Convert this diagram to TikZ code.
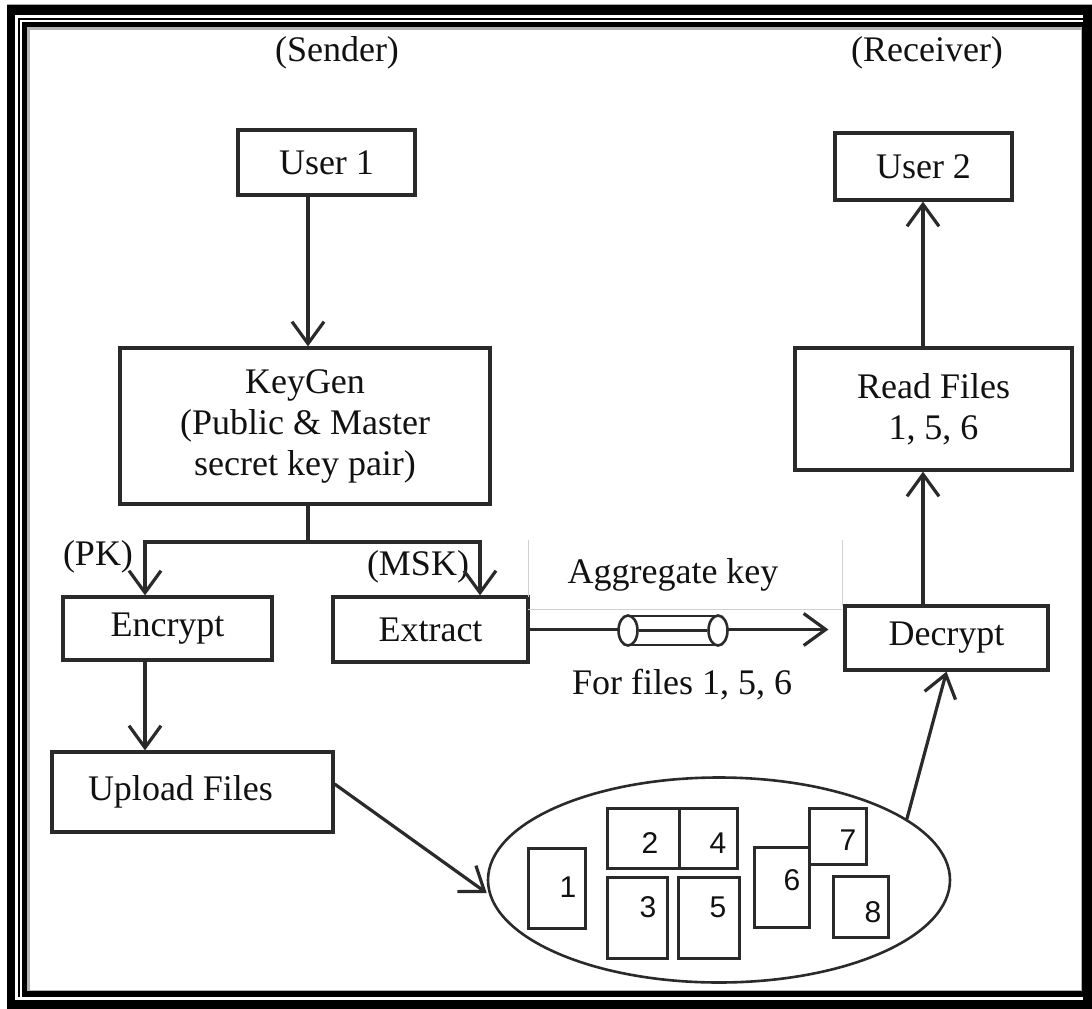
\documentclass[tikz,border=0pt]{standalone}
\usepackage{fontspec}
\setmainfont{Liberation Serif}
\newfontfamily\digitfont{Liberation Sans}
\usetikzlibrary{arrows.meta,shapes.geometric}
\definecolor{ln}{HTML}{2A2A2A}
\definecolor{tx}{HTML}{111111}
\definecolor{faint}{HTML}{D0D0D0}
\tikzset{
  box/.style={draw=ln, line width=3.2pt, fill=white, inner sep=0pt, text=tx,
    font=\fontsize{36}{41}\selectfont, align=center},
  lbl/.style={inner sep=0pt, text=tx, font=\fontsize{36}{41}\selectfont},
  filebox/.style={draw=ln, line width=3pt, inner sep=0pt},
  digit/.style={inner sep=0pt, text=tx, font=\digitfont\fontsize{30}{32}\selectfont},
  arr/.style={draw=ln, line width=3.2pt, -{Straight Barb[length=22pt,width=32pt]}},
  conn/.style={draw=ln, line width=3.2pt},
}
\begin{document}
\begin{tikzpicture}[x=1pt,y=-1pt]
\useasboundingbox (0,0) rectangle (1092,1009);
% frame
\fill[white] (0,0) rectangle (1092,1009);
\draw[gray!70, line width=1pt] (7,4) -- (1092,4);
\fill[black] (7,5) rectangle (1092,1009);
\fill[white] (15,15) rectangle (1083,1000);
\fill[black] (18,18) rectangle (1083,997);
\fill[white] (20,20) rectangle (1083,997);
\fill[black] (22,22) rectangle (1083,997);
\fill[gray!60] (27,27) rectangle (1082,991);
\fill[white] (30,30) rectangle (1081,990);

% headings
\node[lbl] (sender) at (337,53) {(Sender)};
\node[lbl] (receiver) at (927,53) {(Receiver)};

% boxes
\node[box, minimum width=177, minimum height=65] (user1) at (326.5,162.5) {User 1};
\node[box, minimum width=177, minimum height=67] (user2) at (923.5,166.5) {User 2};
\node[box, minimum width=370, minimum height=156] (keygen) at (305,426) {KeyGen\\(Public \& Master\\secret key pair)};
\node[box, minimum width=209, minimum height=63] (encrypt) at (167.5,628.5) {Encrypt};
\node[box, minimum width=195, minimum height=65] (extract) at (430.5,629.5) {Extract};
\node[box, minimum width=203, minimum height=64] (decrypt) at (946.5,638) {Decrypt};
\node[box, minimum width=277, minimum height=122] (readfiles) at (933.5,409) {Read Files\\1, 5, 6};
\node[box, minimum width=281, minimum height=80] (upload) at (192.5,792) {\raisebox{5pt}{\hspace*{-24pt}Upload Files}};

% labels
\node[lbl] (pk) at (98,557) {(PK)};
\node[lbl] (msk) at (418,567) {(MSK)};
\node[lbl] (aggkey) at (673,575) {Aggregate key};
\node[lbl] (forfiles) at (682,685) {For files 1, 5, 6};

% faint guide lines
\draw[faint, line width=1pt] (528,540) -- (528,597);
\draw[faint, line width=1pt] (842,540) -- (842,606);
\draw[faint, line width=1pt] (528,609) -- (842,609);

% cloud of files
\node[draw=ln, line width=2.6pt, ellipse, minimum width=462, minimum height=205, inner sep=0pt] (cloud) at (719,880) {};
\node[filebox, minimum width=57, minimum height=80] (f1) at (556.5,888) {};
\node[filebox, minimum width=72, minimum height=60] (f2) at (643,838) {};
\node[filebox, minimum width=58, minimum height=60] (f4) at (708,838) {};
\node[filebox, minimum width=60, minimum height=81] (f3) at (637,917.5) {};
\node[filebox, minimum width=61, minimum height=81] (f5) at (708.5,917.5) {};
\node[filebox, minimum width=55, minimum height=80] (f6) at (781.5,887) {};
\node[filebox, minimum width=57, minimum height=56] (f7) at (837.5,836) {};
\node[filebox, minimum width=55, minimum height=61] (f8) at (860.5,906.5) {};
\node[digit] (d1) at (568,887) {1};
\node[digit] (d2) at (650,843) {2};
\node[digit] (d4) at (718,843) {4};
\node[digit] (d3) at (648,907) {3};
\node[digit] (d5) at (718,907) {5};
\node[digit] (d6) at (792,880) {6};
\node[digit] (d7) at (848,840) {7};
\node[digit] (d8) at (873,912) {8};

% helper coordinates
\coordinate (kx) at (308,0);
\coordinate (split) at (308,542);
\coordinate (pkdrop) at (145,542);
\coordinate (mskdrop) at (480,542);
\coordinate (rx) at (923,0);

% connectors
\draw[arr] (user1.south -| kx) -- (keygen.north -| kx);
\draw[conn] (keygen.south -| kx) -- (split);
\draw[arr] (split) -- (pkdrop) -- (encrypt.north -| pkdrop);
\draw[arr] (split) -- (mskdrop) -- (extract.north -| mskdrop);
\draw[arr] (encrypt.south -| pkdrop) -- (upload.north -| pkdrop);
\draw[arr, shorten >=15pt] (extract.east) -- (decrypt.west |- extract.east);
\draw[arr] ([yshift=8pt]upload.east) -- ([yshift=-13pt]cloud.west);
\draw[arr] (cloud.18) -- (decrypt.south);
\draw[arr] (decrypt.north -| rx) -- (readfiles.south -| rx);
\draw[arr] (readfiles.north -| rx) -- (user2.south -| rx);

% key tube (aggregate key)
\fill[white] (628,616) rectangle (718,645);
\draw[ln, line width=2.6pt] (628,616) -- (718,616);
\draw[ln, line width=2.6pt] (628,645) -- (718,645);
\node[draw=ln, fill=white, line width=2.6pt, ellipse, minimum width=19, minimum height=30, inner sep=0pt] (tubeL) at (628,630.5) {};
\node[draw=ln, fill=white, line width=2.6pt, ellipse, minimum width=19, minimum height=30, inner sep=0pt] (tubeR) at (718,630.5) {};
\draw[conn] (tubeL.east) -- (tubeR.west);
\end{tikzpicture}
\end{document}
